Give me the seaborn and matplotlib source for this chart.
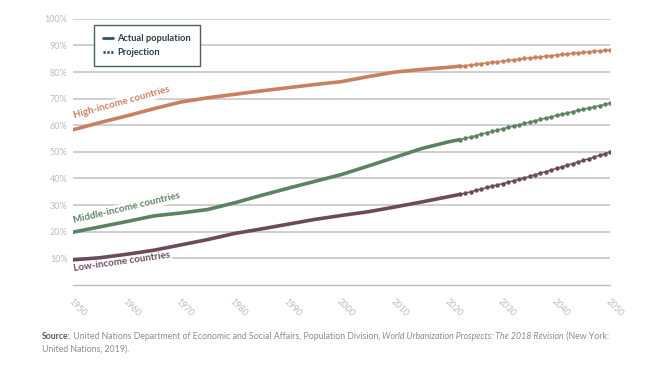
import matplotlib
matplotlib.use("Agg")
import matplotlib.pyplot as plt
import seaborn as sns
from matplotlib.lines import Line2D

# Urban share of population (%)
actual_years = [1950, 1955, 1960, 1965, 1970, 1975, 1980, 1985, 1990, 1995,
                2000, 2005, 2010, 2015, 2020, 2022]
high_actual = [58.3, 61.0, 63.5, 66.2, 68.7, 70.3, 71.6, 72.9, 74.1, 75.3,
               76.4, 78.3, 80.0, 81.0, 81.8, 82.2]
middle_actual = [19.8, 21.8, 23.8, 25.9, 27.0, 28.3, 30.8, 33.6, 36.3, 38.9,
                 41.5, 44.7, 48.0, 51.3, 53.8, 54.6]
low_actual = [9.4, 10.2, 11.5, 13.0, 15.0, 17.0, 19.3, 21.0, 22.8, 24.6,
              26.1, 27.5, 29.3, 31.2, 33.2, 34.0]

proj_years = list(range(2022, 2051))
high_proj = [82.2, 82.4, 82.7, 82.9, 83.2, 83.4, 83.7, 83.9, 84.1, 84.4,
             84.6, 84.8, 85.1, 85.3, 85.5, 85.7, 86.0, 86.2, 86.4, 86.6,
             86.8, 87.0, 87.2, 87.4, 87.6, 87.8, 88.0, 88.1, 88.3]
middle_proj = [54.6, 55.1, 55.6, 56.1, 56.7, 57.2, 57.7, 58.2, 58.7, 59.2,
               59.7, 60.2, 60.7, 61.2, 61.7, 62.2, 62.7, 63.2, 63.7, 64.2,
               64.6, 65.1, 65.6, 66.0, 66.5, 66.9, 67.4, 67.8, 68.3]
low_proj = [34.0, 34.5, 35.0, 35.5, 36.0, 36.6, 37.1, 37.6, 38.1, 38.6,
            39.2, 39.7, 40.2, 40.8, 41.4, 42.0, 42.6, 43.2, 43.8, 44.4,
            45.0, 45.6, 46.2, 46.8, 47.4, 48.0, 48.7, 49.3, 50.0]

y_ticks = [10, 20, 30, 40, 50, 60, 70, 80, 90, 100]
x_labels = [1950, 1960, 1970, 1980, 1990, 2000, 2010, 2020, 2030, 2040, 2050]

series = [
    ("High-income countries", high_actual, high_proj, "#c8805e"),
    ("Middle-income countries", middle_actual, middle_proj, "#5d8262"),
    ("Low-income countries", low_actual, low_proj, "#6b4a5c"),
]

sns.set_style("white")
plt.rcParams['font.family'] = ['Lato', 'DejaVu Sans']

fig = plt.figure(figsize=(6.52, 3.69), dpi=100)
ax = fig.add_axes([0.112, 0.228, 0.824, 0.721])

grid_c = "#cccccc"
tick_c = "#bcbcbc"

for y in y_ticks:
    ax.axhline(y, color=grid_c, lw=1.3, zorder=0)

for name, act, proj, col in series:
    sns.lineplot(x=actual_years, y=act, ax=ax, color=col, linewidth=2.6,
                 solid_capstyle='round', solid_joinstyle='round', zorder=3)
    sns.lineplot(x=proj_years, y=proj, ax=ax, color=col, linewidth=1.0,
                 marker='o', markersize=3.2, markeredgewidth=0, zorder=3)

ax.set_xlim(1950, 2050)
ax.set_ylim(0, 100)

for s in ['top', 'right', 'left']:
    ax.spines[s].set_visible(False)
ax.spines['bottom'].set_color(tick_c)
ax.spines['bottom'].set_linewidth(1.0)

ax.set_yticks(y_ticks)
ax.set_yticklabels([f"{v}%" for v in y_ticks], color=tick_c, fontsize=6.5)
ax.tick_params(axis='y', length=0, pad=4)

ax.set_xticks(list(range(1950, 2051, 5)))
ax.set_xticklabels([str(y) if y in x_labels else "" for y in range(1950, 2051, 5)],
                   rotation=-45, ha='left', va='top', rotation_mode='anchor',
                   color=tick_c, fontsize=6.5)
ax.tick_params(axis='x', direction='inout', length=5, width=0.9,
               color=tick_c, pad=6)
ax.set_xlabel("")
ax.set_ylabel("")

# series labels along the lines (white box breaks the gridlines only)
label_pos = [(1950.3, 61.8, 15.5), (1950.3, 22.4, 13.3), (1950.3, 4.4, 8.0)]
for (name, act, proj, col), (lx, ly, rot) in zip(series, label_pos):
    ax.text(lx, ly, name, color=col, fontsize=7, fontweight='bold',
            rotation=rot, rotation_mode='anchor', ha='left', va='bottom',
            bbox=dict(facecolor='white', edgecolor='none', pad=0.8), zorder=2)

# legend
leg_c = "#2e5466"
handles = [
    Line2D([0], [0], color=leg_c, lw=2.0),
    Line2D([0], [0], color=leg_c, lw=2.0, linestyle=(0, (0.8, 0.6))),
]
leg = ax.legend(handles, ["Actual population", "Projection"],
                loc='upper left', bbox_to_anchor=(0.03, 0.995),
                handlelength=1.1, handletextpad=0.4, borderpad=1.0,
                labelspacing=0.5, fancybox=False, framealpha=1,
                prop={'weight': 'bold', 'size': 6.7})
leg.get_frame().set_edgecolor("#4a5e68")
leg.get_frame().set_linewidth(1.0)
for t in leg.get_texts():
    t.set_color("#2b3d48")

# source note, built piece by piece for mixed bold / italic
renderer = fig.canvas.get_renderer()
src_c = "#8c8c8c"
pieces = [
    ("Source:", 'bold', 'normal', "#5a5a5a"),
    (" United Nations Department of Economic and Social Affairs, Population Division, ",
     'normal', 'normal', src_c),
    ("World Urbanization Prospects: The 2018 Revision", 'normal', 'italic', src_c),
    (" (New York:", 'normal', 'normal', src_c),
]
x0 = 42 / 652
x = x0
y1 = 1 - 339 / 369
for txt, w, st, c in pieces:
    t = fig.text(x, y1, txt, fontsize=6.3, fontweight=w, fontstyle=st,
                 color=c, ha='left', va='baseline')
    bb = t.get_window_extent(renderer)
    x += bb.width / fig.bbox.width
fig.text(x0, 1 - 352 / 369, "United Nations, 2019).", fontsize=6.3,
         color=src_c, ha='left', va='baseline')

fig.savefig("out.png", dpi=100)
